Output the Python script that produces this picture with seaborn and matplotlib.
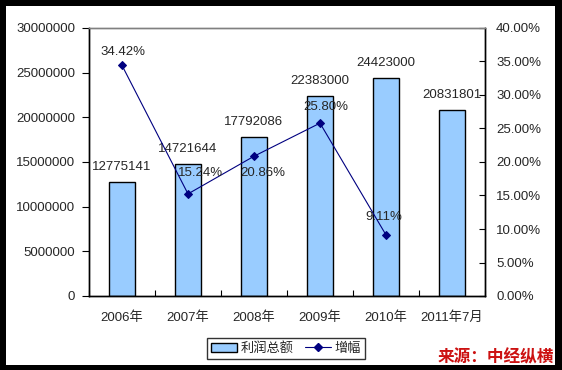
import numpy as np
import pandas as pd
import seaborn as sns
import matplotlib.pyplot as plt
from matplotlib.patches import Rectangle, Patch
from matplotlib.lines import Line2D
from matplotlib.ticker import FixedLocator, FuncFormatter

years = ['2006年', '2007年', '2008年', '2009年', '2010年', '2011年7月']
profit = [12775141, 14721644, 17792086, 22383000, 24423000, 20831801]
growth = [34.42, 15.24, 20.86, 25.80, 9.11]
growth_labels = ['34.42%', '15.24%', '20.86%', '25.80%', '9.11%']
# label offsets in pixels (dx, dy) for the growth labels
growth_offsets = [(1, 13), (13, 21), (9, -17), (6, 16), (-2, 18)]

sns.set_style('white')
plt.rcParams['font.family'] = ['Liberation Sans', 'Noto Sans CJK SC']
plt.rcParams['font.size'] = 9.5

df = pd.DataFrame({'year': years, 'profit': profit})
gdf = pd.DataFrame({'pos': np.arange(len(growth)), 'growth': growth})

fig = plt.figure(figsize=(5.62, 3.70), dpi=100, facecolor='black')
fig.patches.append(Rectangle((6 / 562, 1 - 365 / 370), 549 / 562, 359 / 370,
                             transform=fig.transFigure, facecolor='white',
                             edgecolor='none', zorder=-10))

ax = fig.add_axes([89 / 562, 1 - 296 / 370, 396 / 562, 268 / 370])
sns.barplot(data=df, x='year', y='profit', color='#99CCFF', width=0.4,
            edgecolor='black', linewidth=1, saturation=1, ax=ax)
ax.set_ylim(0, 30000000)
ax.set_yticks(np.arange(0, 30000001, 5000000))
ax.yaxis.set_major_formatter(FuncFormatter(lambda v, p: f'{int(v)}'))
ax.set_xlabel('')
ax.set_ylabel('')
for i, v in enumerate(profit):
    ax.annotate(str(v), xy=(i, v), xytext=(0, 15), textcoords='offset pixels',
                ha='center', va='center', fontsize=9.5)

ax2 = ax.twinx()
sns.lineplot(data=gdf, x='pos', y='growth', ax=ax2, color='#000080',
             linewidth=0.8, marker='D', markersize=4.5,
             markeredgecolor='#000080', markerfacecolor='#000080')
ax2.set_ylim(0, 40)
ax2.set_yticks(np.arange(0, 40.1, 5))
ax2.yaxis.set_major_formatter(FuncFormatter(lambda v, p: f'{v:.2f}%'))
ax2.set_ylabel('')
ax2.set_xlabel('')
for i, (g, lab, off) in enumerate(zip(growth, growth_labels, growth_offsets)):
    ax2.annotate(lab, xy=(i, g), xytext=off, textcoords='offset pixels',
                 ha='center', va='center', fontsize=9.5)

ax.set_xlim(-0.5, len(years) - 0.5)
ax2.set_xlim(-0.5, len(years) - 0.5)

# category ticks between bars
ax.xaxis.set_minor_locator(FixedLocator(np.arange(-0.5, len(years), 1)))
ax.tick_params(axis='x', which='major', length=0, pad=11, labelsize=9.5)
ax.tick_params(axis='x', which='minor', direction='in', length=4,
               width=0.8, color='black', bottom=True)
ax.tick_params(axis='y', direction='out', length=5, width=0.8, pad=5,
               left=True, color='black', labelsize=9.5)
ax2.tick_params(axis='y', direction='in', length=4, width=0.8, pad=8,
                right=True, color='black', labelsize=9.5)

for a in (ax, ax2):
    for s in a.spines.values():
        s.set_color('black')
        s.set_linewidth(1)
    a.spines['top'].set_color('#808080')
    a.grid(False)
ax.patch.set_alpha(0)

handles = [Patch(facecolor='#99CCFF', edgecolor='black', linewidth=1),
           Line2D([], [], color='#000080', linewidth=0.8, marker='D',
                  markersize=4.5)]
leg = fig.legend(handles, ['利润总额', '增幅'], loc='center', ncol=2,
                 bbox_to_anchor=(286 / 562, 1 - 348.5 / 370),
                 frameon=True, fancybox=False, edgecolor='black',
                 fontsize=9.5, handlelength=2.0, handletextpad=0.3,
                 columnspacing=0.8, borderpad=0.3)
leg.get_frame().set_linewidth(1)

fig.text(496 / 562, 1 - 357 / 370, '来源：中经纵横', color='#CC1111',
         fontsize=12, fontweight='bold', fontstyle='italic',
         ha='center', va='center')

fig.savefig('out.png', dpi=100, facecolor=fig.get_facecolor())
